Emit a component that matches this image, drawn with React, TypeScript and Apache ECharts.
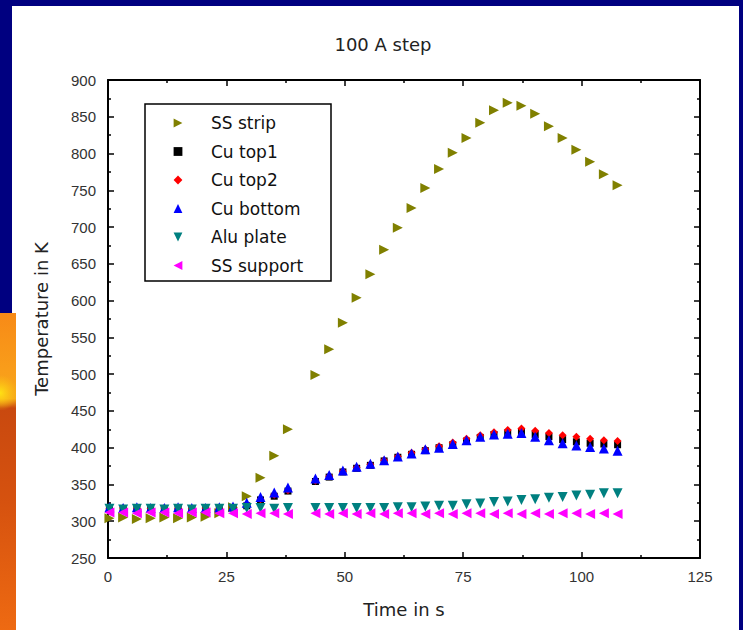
import React, { useEffect, useRef } from "react";
import * as echarts from "echarts";

const times = [0.3, 3.2, 6.1, 9.0, 11.9, 14.8, 17.7, 20.6, 23.5, 26.4, 29.3, 32.2, 35.1, 38.0, 43.8, 46.7, 49.6, 52.5, 55.4, 58.3, 61.2, 64.1, 67.0, 69.9, 72.8, 75.7, 78.6, 81.5, 84.4, 87.3, 90.2, 93.1, 96.0, 98.9, 101.8, 104.7, 107.6];

const ssStrip = [304, 305, 303, 304, 305, 304, 305, 306, 311, 319, 334, 359, 389, 425, 499, 534, 570, 604, 636, 669, 699, 726, 753, 779, 801, 821, 842, 859, 869, 865, 854, 837, 821, 805, 789, 772, 757];
const cuTop1 = [316, 316, 317, 316, 316, 317, 316, 316, 317, 318, 321, 329, 334, 341, 354, 360, 367, 372, 376, 382, 387, 391, 396, 400, 404, 409, 414, 418, 420, 421, 418, 415, 411, 408, 406, 405, 404];
const cuTop2 = [317, 318, 317, 317, 318, 317, 317, 318, 317, 319, 322, 330, 336, 342, 355, 361, 368, 373, 377, 383, 388, 393, 398, 402, 407, 412, 417, 421, 424, 426, 423, 420, 417, 415, 412, 410, 409];
const cuBottom = [319, 318, 319, 318, 318, 319, 318, 318, 319, 320, 325, 333, 339, 346, 358, 363, 369, 374, 378, 383, 388, 392, 398, 400, 405, 410, 415, 418, 419, 420, 415, 410, 406, 403, 401, 399, 396];
const aluPlate = [317, 316, 317, 317, 316, 317, 316, 317, 317, 317, 318, 318, 317, 318, 318, 318, 318, 318, 318, 318, 319, 319, 320, 321, 321, 323, 324, 326, 327, 329, 330, 332, 333, 335, 336, 338, 338];
const ssSupport = [312, 312, 311, 312, 312, 311, 312, 312, 311, 311, 310, 311, 311, 310, 311, 310, 311, 310, 311, 310, 311, 311, 310, 311, 310, 311, 311, 310, 311, 310, 311, 310, 311, 311, 310, 311, 310];

const seriesNames = ["SS strip", "Cu top1", "Cu top2", "Cu bottom", "Alu plate", "SS support"];
const seriesValues = [ssStrip, cuTop1, cuTop2, cuBottom, aluPlate, ssSupport];

const styles = [
  { color: "#808000", symbol: "triangle", rotate: -90, size: 10 },
  { color: "#000000", symbol: "rect", rotate: 0, size: 7 },
  { color: "#ff0000", symbol: "diamond", rotate: 0, size: 8 },
  { color: "#0000ff", symbol: "triangle", rotate: 0, size: 10 },
  { color: "#008080", symbol: "triangle", rotate: 180, size: 10 },
  { color: "#ff00ff", symbol: "triangle", rotate: 90, size: 10 },
];

const TEXT_FONT = "DejaVu Sans";
const TICK_FONT = "Liberation Sans";

export default function App() {
  const ref = useRef<HTMLDivElement>(null);
  useEffect(() => {
    if (!ref.current) return;
    const chart = echarts.init(ref.current, undefined, { renderer: "svg" });

    const axisCommon = {
      axisLine: { show: true, onZero: false, lineStyle: { color: "#000", width: 2 } },
      axisTick: { show: true, inside: true, length: 6, lineStyle: { color: "#000", width: 1.5 } },
      minorTick: { show: true, splitNumber: 2, length: 3, lineStyle: { color: "#000", width: 1.5 } },
      splitLine: { show: false },
    };

    const option: any = {
      animation: false,
      backgroundColor: "#000080",
      title: {
        text: "100 A step",
        left: 378,
        top: 30,
        textAlign: "center",
        textStyle: { fontFamily: TEXT_FONT, fontSize: 18, fontWeight: "normal", color: "#222" },
      },
      graphic: [
        { type: "rect", z: -10, shape: { x: 12, y: 6, width: 727, height: 630 }, style: { fill: "#ffffff" } },
        {
          type: "rect",
          z: -9,
          shape: { x: 0, y: 313, width: 16, height: 317 },
          style: {
            fill: new echarts.graphic.LinearGradient(0, 0, 0, 1, [
              { offset: 0, color: "#f78a17" },
              { offset: 0.18, color: "#f99d1a" },
              { offset: 0.27, color: "#f6a818" },
              { offset: 0.3, color: "#c9490f" },
              { offset: 0.6, color: "#d6520f" },
              { offset: 1, color: "#ee6a12" },
            ]),
          },
        },
        {
          type: "rect",
          z: -8,
          shape: { x: 0, y: 370, width: 16, height: 40 },
          style: {
            fill: new echarts.graphic.RadialGradient(0, 393, 18, [
              { offset: 0, color: "rgba(255,225,20,1)" },
              { offset: 1, color: "rgba(255,200,20,0)" },
            ], true),
          },
        },
        {
          type: "rect",
          z: 10,
          shape: { x: 145, y: 104, width: 186, height: 177 },
          style: { fill: "none", stroke: "#000", lineWidth: 1.5 },
        },
      ],
      legend: {
        show: true,
        orient: "vertical",
        left: 150,
        top: 113,
        padding: 0,
        itemWidth: 56,
        itemHeight: 11,
        itemGap: 8.5,
        data: seriesNames,
        textStyle: { fontFamily: TEXT_FONT, fontSize: 17, lineHeight: 20, color: "#111" },
      },
      grid: { left: 108, top: 80, width: 592, height: 478, containLabel: false },
      xAxis: [
        {
          ...axisCommon,
          type: "value",
          position: "bottom",
          min: 0,
          max: 125,
          interval: 25,
          name: "Time in s",
          nameLocation: "middle",
          nameGap: 42,
          nameTextStyle: { fontFamily: TEXT_FONT, fontSize: 18, color: "#222" },
          axisLabel: { fontFamily: TICK_FONT, fontSize: 15, color: "#333", margin: 11 },
        },
        {
          ...axisCommon,
          type: "value",
          position: "top",
          min: 0,
          max: 125,
          interval: 25,
          axisLabel: { show: false },
        },
      ],
      yAxis: [
        {
          ...axisCommon,
          type: "value",
          position: "left",
          min: 250,
          max: 900,
          interval: 50,
          name: "Temperature in K",
          nameLocation: "middle",
          nameGap: 58,
          nameTextStyle: { fontFamily: TEXT_FONT, fontSize: 18, color: "#222" },
          axisLabel: { fontFamily: TICK_FONT, fontSize: 15, color: "#333", margin: 12 },
        },
        {
          ...axisCommon,
          type: "value",
          position: "right",
          min: 250,
          max: 900,
          interval: 50,
          axisLabel: { show: false },
        },
      ],
      series: seriesNames.map((name, i) => ({
        name,
        type: "line",
        xAxisIndex: 0,
        yAxisIndex: 0,
        data: times.map((t, j) => [t, seriesValues[i][j]]),
        showSymbol: true,
        showAllSymbol: true,
        symbol: styles[i].symbol,
        symbolSize: styles[i].size,
        symbolRotate: styles[i].rotate,
        lineStyle: { opacity: 0, width: 0 },
        itemStyle: { color: styles[i].color, opacity: 1 },
        emphasis: { disabled: true },
        z: 2 + i,
      })),
    };

    chart.setOption(option);
    return () => chart.dispose();
  }, []);

  return (
    <div
      ref={ref}
      style={{ position: "fixed", left: 0, top: 0, width: 743, height: 630 }}
    />
  );
}
